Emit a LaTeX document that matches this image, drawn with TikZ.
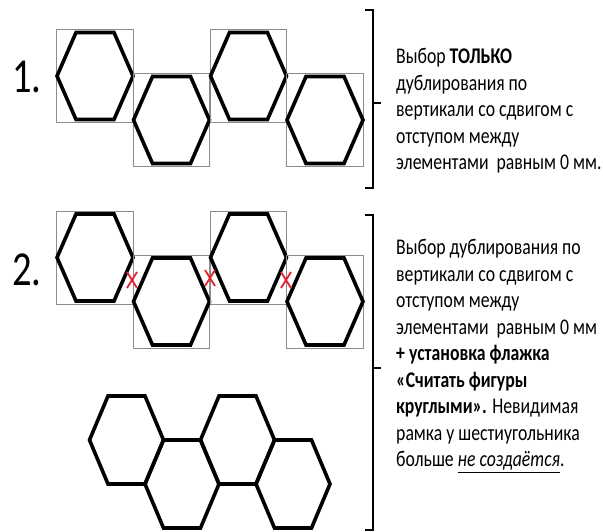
\documentclass[tikz,border=0pt]{standalone}
\usepackage{fontspec}
\setmainfont{Carlito}[FakeStretch=0.79]
\usetikzlibrary{positioning}
\definecolor{framegray}{HTML}{8C8C8C}
\definecolor{markred}{HTML}{E5222B}
\tikzset{
  cellbox/.style  ={draw=framegray, line width=0.9bp},
  hexline/.style  ={draw=black, line width=3.6bp, line join=miter},
  crossmark/.style={draw=markred, line width=1.8bp},
  brace/.style    ={draw=black, line width=1.8bp},
  numlabel/.style ={inner sep=0pt, anchor=base west,
                    font=\fontsize{49}{49}\selectfont},
  desc/.style     ={inner sep=0pt, align=left, anchor=north west,
                    font=\fontsize{22.5}{26.6}\selectfont},
}
% centre x, centre y, half width, half height
\newcommand\hexat[4]{%
  \draw[hexline] (#1-#3,#2) -- (#1-#3/2,#2-#4) -- (#1+#3/2,#2-#4)
    -- (#1+#3,#2) -- (#1+#3/2,#2+#4) -- (#1-#3/2,#2+#4) -- cycle;}
\def\boxrow{95/76, 171.5/120, 248.5/76, 325/120}
\def\combrow{126.5/440, 182/484, 237.5/440, 293/484}
\def\crosslist{132/280, 210/278, 286/280}

\begin{document}
\begin{tikzpicture}[x=1bp,y=-1bp]
\useasboundingbox (0,0) rectangle (603,532);
% --- 1: duplication only, boxes touch ---
\node[numlabel] (num1) at (12,93) {1.};
\foreach \cx/\cy in \boxrow {
  \draw[cellbox] (\cx-38.25,\cy-46.5) rectangle (\cx+38.25,\cy+46.5);
  \hexat{\cx}{\cy}{38}{43.5}
}
\draw[brace] (365,10) -- (373,10) -- (373,188) -- (365,188);
\draw[brace] (373,103) -- (381,103);
\node[desc] (txt1) at (396,48.5)
  {Выбор \textbf{ТОЛЬКО}\\
   дублирования по\\
   вертикали со сдвигом с\\
   отступом между\\
   элементами~ равным 0 мм.};
% --- 2: same, plus round figures ---
\node[numlabel] (num2) at (12,285) {2.};
\begin{scope}[yshift=-181.5bp]
  \foreach \cx/\cy in \boxrow {
    \draw[cellbox] (\cx-38.25,\cy-46.5) rectangle (\cx+38.25,\cy+46.5);
    \hexat{\cx}{\cy}{38}{43.5}
  }
\end{scope}
\foreach \x/\y in \crosslist {
  \draw[crossmark] (\x-5,\y-8) -- (\x+5,\y+8);
  \draw[crossmark] (\x+5,\y-8) -- (\x-5,\y+8);
}
% the packed result, no invisible frame
\foreach \cx/\cy in \combrow {\hexat{\cx}{\cy}{37}{44}}
\draw[brace] (365,215) -- (373,215) -- (373,530) -- (365,530);
\draw[brace] (373,368) -- (381,368);
\node[desc] (txt2) at (396,239.5)
  {Выбор дублирования по\\
   вертикали со сдвигом с\\
   отступом между\\
   элементами~ равным 0 мм\\
   \textbf{+ установка флажка}\\
   \textbf{«Считать фигуры}\\
   \textbf{круглыми».} Невидимая\\
   рамка у шестиугольника\\
   больше \underline{\textit{не создаётся}}.};
\end{tikzpicture}
\end{document}
